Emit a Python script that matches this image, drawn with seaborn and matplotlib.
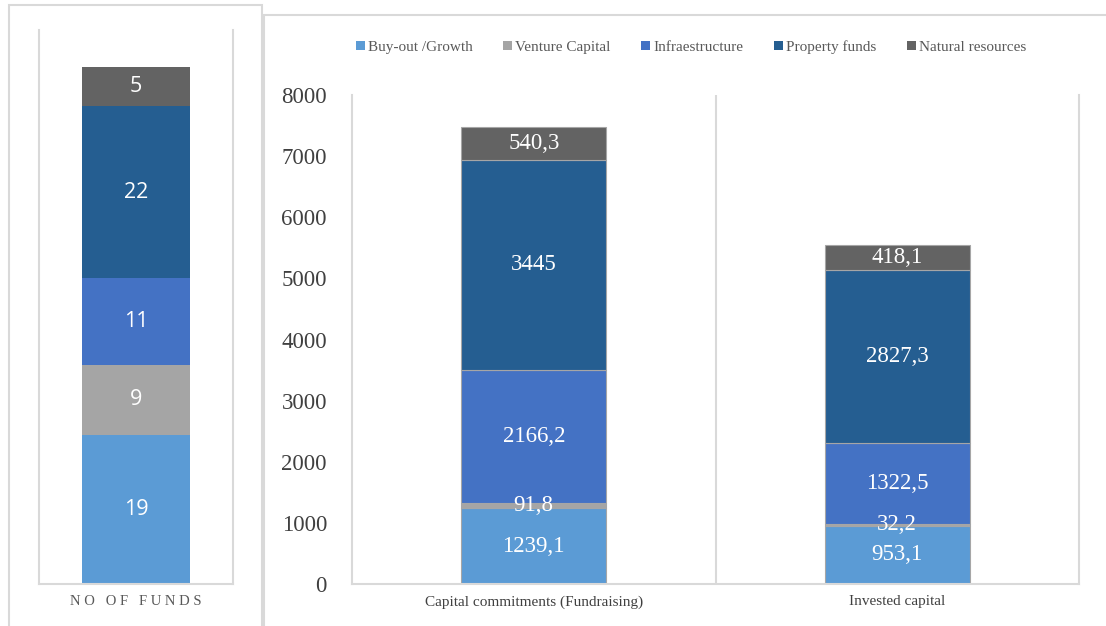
import matplotlib
matplotlib.use("Agg")
import matplotlib.pyplot as plt
from matplotlib.patches import Rectangle, Patch
import seaborn as sns
import numpy as np

# ---- data ----
series = ["Buy-out /Growth", "Venture Capital", "Infraestructure", "Property funds", "Natural resources"]
colors = ["#5B9BD5", "#A5A5A5", "#4472C4", "#255E91", "#636363"]

fund_category = ["NO OF FUNDS"]
fund_counts = [19, 9, 11, 22, 5]

capital_categories = ["Capital commitments (Fundraising)", "Invested capital"]
buyout = [1239.1, 953.1]
venture = [91.8, 32.2]
infra = [2166.2, 1322.5]
property_funds = [3445, 2827.3]
natural = [540.3, 418.1]
capital_values = [buyout, venture, infra, property_funds, natural]

y_ticks = [0, 1000, 2000, 3000, 4000, 5000, 6000, 7000, 8000]

sns.set_theme(style="white")
plt.rcParams["font.family"] = ["Liberation Serif", "DejaVu Serif"]

W, H = 1106, 626
fig = plt.figure(figsize=(W / 100, H / 100), dpi=100)

def fx(px):
    return px / W

def fy(py):
    return 1 - py / H

# panel frames
frame_col = "#D9D9D9"
fig.patches.append(Rectangle((fx(9), fy(640)), fx(262 - 9), (640 - 5) / H,
                             transform=fig.transFigure, fill=False,
                             edgecolor=frame_col, linewidth=1.5))
fig.patches.append(Rectangle((fx(264), fy(640)), fx(1120 - 264), (640 - 15) / H,
                             transform=fig.transFigure, fill=False,
                             edgecolor=frame_col, linewidth=1.5))

def fmt(v):
    return f"{v:g}".replace(".", ",")

# ---- left panel ----
ax1 = fig.add_axes([fx(39), fy(584), fx(233 - 39), (584 - 30) / H])
bottom = 0.0
for name, col, v in zip(series, colors, fund_counts):
    sns.barplot(x=fund_category, y=[v], bottom=[bottom], color=col, width=0.56,
                ax=ax1, saturation=1, linewidth=0)
    bottom += v
for cont in ax1.containers:
    ax1.bar_label(cont, labels=[fmt(d.get_height()) for d in cont],
                  label_type="center", color="white", fontsize=15.5,
                  family=["Open Sans", "DejaVu Sans"])
ax1.set_ylim(0, 70.7)
ax1.set_xlim(-0.5, 0.5)
ax1.set_yticks([])
ax1.set_xticks([0])
ax1.set_xticklabels([" ".join(fund_category[0])], fontsize=10.5, color="#595959")
ax1.tick_params(axis="x", length=0, pad=8)
ax1.set_xlabel("")
ax1.set_ylabel("")
for s in ["left", "right", "bottom"]:
    ax1.spines[s].set_color(frame_col)
    ax1.spines[s].set_linewidth(1.5)
ax1.spines["top"].set_visible(False)

# ---- right panel ----
ax2 = fig.add_axes([fx(352), fy(584), fx(1079 - 352), (584 - 95) / H])
bottoms = np.zeros(len(capital_categories))
for name, col, vals in zip(series, colors, capital_values):
    sns.barplot(x=capital_categories, y=vals, bottom=bottoms.copy(), color=col,
                width=0.4, ax=ax2, saturation=1, linewidth=0.8, edgecolor="#A6A6A6")
    bottoms += np.array(vals)
for cont in ax2.containers:
    ax2.bar_label(cont, labels=[fmt(d.get_height()) for d in cont],
                  label_type="center", color="white", fontsize=16.5)
ax2.set_ylim(0, 8000)
ax2.set_xlim(-0.5, 1.5)
ax2.set_yticks(y_ticks)
ax2.set_yticklabels([str(t) for t in y_ticks], fontsize=16.5, color="#404040")
ax2.tick_params(axis="y", length=0, pad=18)
ax2.tick_params(axis="x", length=0, pad=8, labelsize=11, labelcolor="#404040")
ax2.set_xlabel("")
ax2.set_ylabel("")
for s in ["left", "right", "bottom"]:
    ax2.spines[s].set_color(frame_col)
    ax2.spines[s].set_linewidth(1.5)
ax2.spines["top"].set_visible(False)
ax2.axvline(0.5, color=frame_col, linewidth=1.5, zorder=0)

handles = [Patch(facecolor=c, edgecolor="none") for c in colors]
fig.legend(handles, series, loc="center", bbox_to_anchor=(fx(691), fy(47)),
           ncol=5, frameon=False, fontsize=11, handlelength=0.6, handleheight=0.6,
           handletextpad=0.2, columnspacing=2.0, labelcolor="#595959")

fig.savefig("out.png", dpi=100)
